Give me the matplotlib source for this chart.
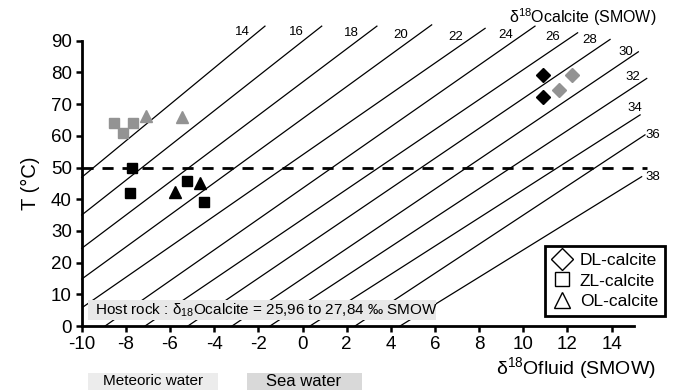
import matplotlib
matplotlib.use("Agg")
import matplotlib.pyplot as plt
from matplotlib.lines import Line2D
from matplotlib.patches import Rectangle

plt.rcParams['font.family'] = ['Liberation Sans', 'DejaVu Sans']
plt.rcParams['mathtext.fontset'] = 'custom'
plt.rcParams['mathtext.rm'] = 'Liberation Sans'
plt.rcParams['axes.unicode_minus'] = False

# isolines of d18O calcite (start and end of each line)
calcite_vals = [14, 16, 18, 20, 22, 24, 26, 28, 30, 32, 34, 36, 38]
line_x0 = [-10, -10, -10, -10, -9.94, -8.94, -7.13, -5.19, -3.19, -1.47, 0.34, 2.38, 4.42]
line_t0 = [46.9, 35.0, 24.5, 14.8, 6.0, 0, 0, 0, 0, 0, 0, 0, 0]
line_x1 = [-1.70, 0.87, 3.37, 5.85, 8.27, 10.53, 12.46, 13.93, 15.21, 15.59, 15.29, 15.51, 15.36]
line_t1 = [94.6, 94.6, 94.6, 95.0, 93.9, 94.6, 92.5, 90.4, 86.5, 78.1, 66.6, 60.3, 47.1]

# samples
dl_black_x = [10.88, 10.88]
dl_black_t = [79.2, 72.3]
dl_grey_x = [12.19, 11.63]
dl_grey_t = [79.2, 74.4]
zl_black_x = [-7.74, -7.81, -5.24, -4.45]
zl_black_t = [49.7, 41.9, 45.7, 39.2]
zl_grey_x = [-8.52, -7.69, -8.12]
zl_grey_t = [63.9, 63.9, 60.8]
ol_black_x = [-4.64, -5.77]
ol_black_t = [45.2, 42.4]
ol_grey_x = [-7.10, -5.47]
ol_grey_t = [66.2, 65.8]

xticks = list(range(-10, 16, 2))
yticks = list(range(0, 91, 10))

# label offsets (pixels) from the upper end of each line
lab_dx = [-23, -25, -26, -31, -29, -29, -25, -20, -13, -14, -5, 8, 11]
lab_dy = [-6, -6, -7, -10, -9, -9, -4, -1, 0, 1, 7, 0, 0]

grey = '#939393'

fig = plt.figure(figsize=(6.73, 3.9), dpi=100)
ax = fig.add_axes([0.1214, 0.1641, 0.8202, 0.7315])
ax.set_xlim(-10, 15)
ax.set_ylim(0, 90)

for i in range(len(calcite_vals)):
    ax.plot([line_x0[i], line_x1[i]], [line_t0[i], line_t1[i]], color='black',
            lw=0.9, clip_on=False, zorder=1)
    ax.annotate(str(calcite_vals[i]), (line_x1[i], line_t1[i]),
                xytext=(lab_dx[i], lab_dy[i]), textcoords='offset pixels',
                ha='center', va='center', fontsize=9.5, annotation_clip=False)

ax.plot([-10, 15.6], [50, 50], color='black', lw=2, ls=(0, (4, 3.2)),
        clip_on=False, zorder=2)

ms = dict(linestyle='none', clip_on=False, zorder=4)
ax.plot(dl_black_x, dl_black_t, marker='D', ms=7.5, color='black', **ms)
ax.plot(dl_grey_x, dl_grey_t, marker='D', ms=7.5, color=grey, **ms)
ax.plot(zl_black_x, zl_black_t, marker='s', ms=7.5, color='black', **ms)
ax.plot(zl_grey_x, zl_grey_t, marker='s', ms=7.5, color=grey, **ms)
ax.plot(ol_black_x, ol_black_t, marker='^', ms=9, color='black', **ms)
ax.plot(ol_grey_x, ol_grey_t, marker='^', ms=9, color=grey, **ms)

# host rock box
ax.add_patch(Rectangle((-9.71, 1.9), 15.76, 6.3, facecolor='#e8e8e8',
                       edgecolor='none', zorder=3))
ax.text(-9.4, 5.0, r'Host rock : δ$_{\mathregular{18}}$Ocalcite = 25,96 to 27,84 ‰ SMOW',
        ha='left', va='center', fontsize=11, zorder=5)

for s in ['top', 'right']:
    ax.spines[s].set_visible(False)
for s in ['left', 'bottom']:
    ax.spines[s].set_linewidth(2)
ax.set_xticks(xticks)
ax.set_yticks(yticks)
ax.tick_params(width=1.8, length=4, labelsize=13.5, pad=3)

ax.set_ylabel('T (°C)', fontsize=14.5, labelpad=8)
fig.text(0.975, 0.055, r'δ$^{\mathregular{18}}$Ofluid (SMOW)', ha='right',
         va='center', fontsize=14)
fig.text(0.975, 0.955, r'δ$^{\mathregular{18}}$Ocalcite (SMOW)', ha='right',
         va='center', fontsize=11.5)

# water boxes under the axis
fig.patches.append(Rectangle((88 / 673, 0), 130 / 673, 17 / 390, facecolor='#ececec',
                             edgecolor='none', transform=fig.transFigure))
fig.patches.append(Rectangle((247 / 673, 0), 115 / 673, 17 / 390, facecolor='#d9d9d9',
                             edgecolor='none', transform=fig.transFigure))
fig.text(153 / 673, 9 / 390, 'Meteoric water', ha='center', va='center', fontsize=11)
fig.text(304 / 673, 9 / 390, 'Sea water', ha='center', va='center', fontsize=12)

handles = [
    Line2D([], [], marker='D', ms=11, mfc='white', mec='black', ls='none', mew=1),
    Line2D([], [], marker='s', ms=10, mfc='white', mec='black', ls='none', mew=1),
    Line2D([], [], marker='^', ms=11, mfc='white', mec='black', ls='none', mew=1),
]
leg = ax.legend(handles, ['DL-calcite', 'ZL-calcite', 'OL-calcite'],
                loc='upper left', bbox_to_anchor=(545 / 673, 0.369),
                bbox_transform=fig.transFigure, fontsize=12.5, fancybox=False,
                framealpha=1, edgecolor='black', borderpad=0.4,
                handletextpad=0.4, labelspacing=0.3, handlelength=1.2,
                borderaxespad=0)
leg.get_frame().set_linewidth(2)
leg.set_zorder(6)

fig.savefig('out.png', dpi=100)
